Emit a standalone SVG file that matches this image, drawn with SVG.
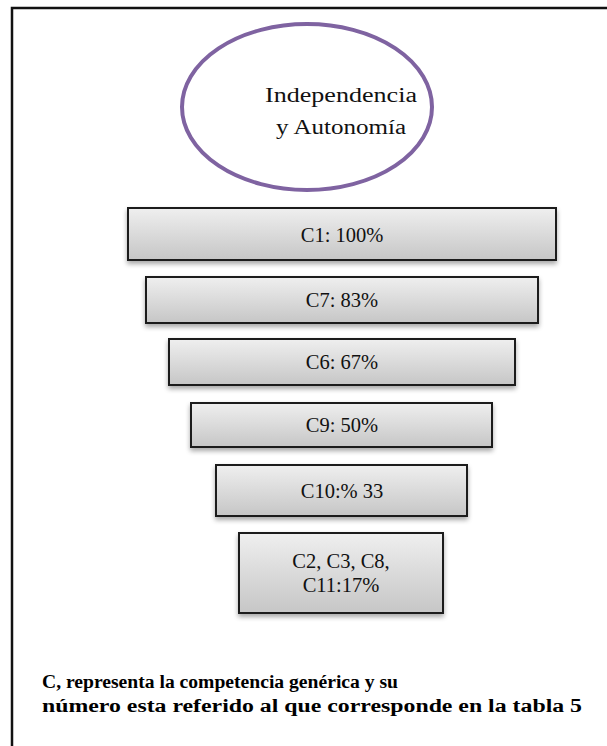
<svg xmlns="http://www.w3.org/2000/svg" width="607" height="746" viewBox="0 0 607 746">
  <style>
    .lbl { font-family: 'Liberation Serif', 'DejaVu Serif', serif; font-size: 20.5px; fill: #111; text-anchor: middle; }
    .bar { fill: url(#barFill); stroke: #1a1a1a; stroke-width: 2; filter: url(#drop); }
    .note { font-family: 'Liberation Serif', 'DejaVu Serif', serif; font-size: 18px; font-weight: bold; fill: #000; }
  </style>
  <defs>
    <linearGradient id="barFill" x1="0" y1="0" x2="0" y2="1">
      <stop offset="0" stop-color="#efefef"/>
      <stop offset="1" stop-color="#c6c6c6"/>
    </linearGradient>
    <filter id="drop" x="-5%" y="-20%" width="110%" height="150%">
      <feGaussianBlur in="SourceAlpha" stdDeviation="2.5"/>
      <feOffset dx="0" dy="3" result="b"/>
      <feComponentTransfer><feFuncA type="linear" slope="0.35"/></feComponentTransfer>
      <feMerge><feMergeNode/><feMergeNode in="SourceGraphic"/></feMerge>
    </filter>
  </defs>

  <rect width="607" height="746" fill="#ffffff"/>
  <!-- page frame (open to the right and bottom) -->
  <rect x="12" y="8" width="700" height="800" fill="none" stroke="#111" stroke-width="2.5"/>

  <g id="title">
    <ellipse cx="307" cy="107" rx="125" ry="83" fill="#ffffff" stroke="#7f63a1" stroke-width="4"/>
    <text class="lbl" x="341" y="102" font-family="Liberation Serif, serif" font-size="21" textLength="152" lengthAdjust="spacingAndGlyphs">Independencia</text>
    <text class="lbl" x="341" y="134" font-family="Liberation Serif, serif" font-size="21" textLength="130" lengthAdjust="spacingAndGlyphs">y Autonomía</text>
  </g>

  <g id="c1">
    <rect class="bar" x="128" y="208" width="428" height="52"/>
    <text class="lbl" x="342" y="242" font-family="Liberation Serif, serif">C1: 100%</text>
  </g>
  <g id="c7">
    <rect class="bar" x="146" y="277" width="392" height="46"/>
    <text class="lbl" x="342" y="307" font-family="Liberation Serif, serif">C7: 83%</text>
  </g>
  <g id="c6">
    <rect class="bar" x="169" y="339" width="346" height="46"/>
    <text class="lbl" x="342" y="369" font-family="Liberation Serif, serif">C6: 67%</text>
  </g>
  <g id="c9">
    <rect class="bar" x="191" y="403" width="301" height="44"/>
    <text class="lbl" x="342" y="432" font-family="Liberation Serif, serif">C9: 50%</text>
  </g>
  <g id="c10">
    <rect class="bar" x="216" y="465" width="251" height="51"/>
    <text class="lbl" x="342" y="498" font-family="Liberation Serif, serif">C10:% 33</text>
  </g>
  <g id="c-rest">
    <rect class="bar" x="239" y="533" width="204" height="80"/>
    <text class="lbl" x="341" y="568" font-family="Liberation Serif, serif">C2, C3, C8,</text>
    <text class="lbl" x="341" y="592" font-family="Liberation Serif, serif">C11:17%</text>
  </g>

  <g id="connectors"></g>

  <g id="legend">
    <text class="note" x="42" y="688" font-family="Liberation Serif, serif" textLength="356" lengthAdjust="spacingAndGlyphs">C, representa la competencia  genérica y su</text>
    <text class="note" x="42" y="712" font-family="Liberation Serif, serif" textLength="540" lengthAdjust="spacingAndGlyphs">número esta referido  al que corresponde en la tabla 5</text>
  </g>
</svg>
